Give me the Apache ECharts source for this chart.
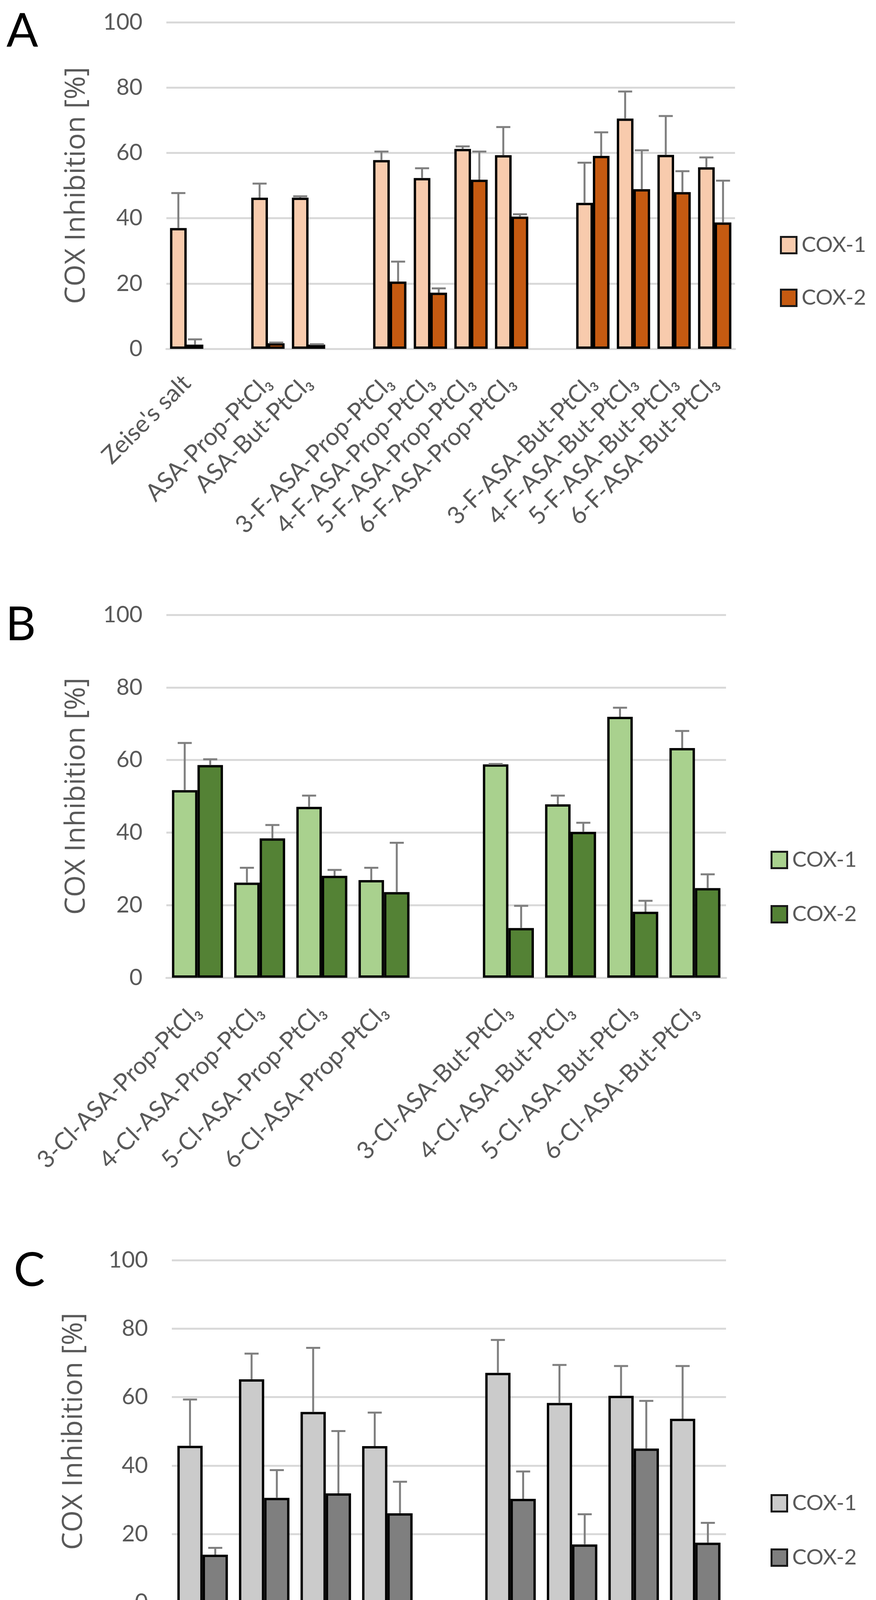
<!DOCTYPE html>
<html><head><meta charset="utf-8">
<script src="https://cdn.jsdelivr.net/npm/echarts@6/dist/echarts.min.js"></script>
<style>html,body{margin:0;padding:0;background:#fff}#c{width:2243px;height:4642px}</style>
</head><body><div id="c"></div>
<script>
// ---------- data ----------
const yTicks = [0, 20, 40, 60, 80, 100];
const seriesNames = ['COX-1', 'COX-2'];

const catsA = ["Zeise's salt", "", "ASA-Prop-PtCl₃", "ASA-But-PtCl₃", "",
  "3-F-ASA-Prop-PtCl₃", "4-F-ASA-Prop-PtCl₃", "5-F-ASA-Prop-PtCl₃", "6-F-ASA-Prop-PtCl₃", "",
  "3-F-ASA-But-PtCl₃", "4-F-ASA-But-PtCl₃", "5-F-ASA-But-PtCl₃", "6-F-ASA-But-PtCl₃"];
const cox1A = [37.0, null, 46.3, 46.3, null, 57.8, 52.3, 61.2, 59.3, null, 44.7, 70.5, 59.4, 55.6];
const sd1A  = [10.7, null, 4.3, 0.4, null, 2.6, 3.0, 0.8, 8.6, null, 12.3, 8.3, 11.9, 3.0];
const cox2A = [1.3, null, 1.7, 1.3, null, 20.6, 17.2, 51.8, 40.5, null, 59.1, 48.9, 48.0, 38.7];
const sd2A  = [1.6, null, 0.2, 0.1, null, 6.1, 1.3, 8.6, 0.7, null, 7.2, 11.9, 6.4, 12.8];

const catsB = ["3-Cl-ASA-Prop-PtCl₃", "4-Cl-ASA-Prop-PtCl₃", "5-Cl-ASA-Prop-PtCl₃", "6-Cl-ASA-Prop-PtCl₃", "",
  "3-Cl-ASA-But-PtCl₃", "4-Cl-ASA-But-PtCl₃", "5-Cl-ASA-But-PtCl₃", "6-Cl-ASA-But-PtCl₃"];
const cox1B = [51.7, 26.2, 47.1, 26.9, null, 58.8, 47.8, 71.9, 63.3];
const sd1B  = [13.0, 4.1, 3.1, 3.4, null, 0.1, 2.4, 2.5, 4.7];
const cox2B = [58.6, 38.4, 28.1, 23.6, null, 13.7, 40.2, 18.2, 24.7];
const sd2B  = [1.6, 3.7, 1.6, 13.6, null, 6.1, 2.5, 3.0, 3.8];

const catsC = ["3-CH₃-ASA-Prop-PtCl₃", "4-CH₃-ASA-Prop-PtCl₃", "5-CH₃-ASA-Prop-PtCl₃", "6-CH₃-ASA-Prop-PtCl₃", "",
  "3-CH₃-ASA-But-PtCl₃", "4-CH₃-ASA-But-PtCl₃", "5-CH₃-ASA-But-PtCl₃", "6-CH₃-ASA-But-PtCl₃"];
const cox1C = [45.8, 65.2, 55.7, 45.7, null, 67.1, 58.3, 60.4, 53.7];
const sd1C  = [13.5, 7.5, 18.7, 9.8, null, 9.6, 11.1, 8.7, 15.4];
const cox2C = [14.0, 30.6, 31.9, 26.1, null, 30.3, 17.0, 45.0, 17.5];
const sd2C  = [2.0, 8.1, 18.2, 9.2, null, 8.0, 8.8, 13.9, 5.8];

// ---------- styling / layout ----------
const FONT = 'Lato, "Open Sans", "DejaVu Sans", sans-serif';
const GREY = '#595959';
const GAP = 0.18;

const panels = [
  { letter: 'A', cats: catsA, v: [cox1A, cox2A], e: [sd1A, sd2A], colors: ['#F8CBAD', '#C55A11'],
    grid: { left: 426, top: 57, width: 1456, height: 836 }, nameGap: 194,
    legend: { left: 1997, top: 600, gap: 80 }, lx: 57, ly: 81 },
  { letter: 'B', cats: catsB, v: [cox1B, cox2B], e: [sd1B, sd2B], colors: ['#A9D18E', '#548235'],
    grid: { left: 426, top: 1574, width: 1433, height: 929 }, nameGap: 194,
    legend: { left: 1973, top: 2174, gap: 84 }, lx: 53, ly: 1600 },
  { letter: 'C', cats: catsC, v: [cox1C, cox2C], e: [sd1C, sd2C], colors: ['#CBCBCB', '#7F7F7F'],
    grid: { left: 440, top: 3226, width: 1419, height: 889 }, nameGap: 215,
    legend: { left: 1973, top: 3821, gap: 84 }, lx: 75, ly: 3253 }
];

function errRender(side) {
  return function (params, api) {
    const j = api.value(0), v = api.value(1), t = api.value(2);
    const band = api.size([1, 0])[0];
    const bw = band * (1 - GAP) / 2;
    const pv = api.coord([j, v]);
    const pt = api.coord([j, t]);
    const x = pv[0] + side * bw / 2;
    const st = { stroke: '#7F7F7F', lineWidth: 5 };
    return { type: 'group', children: [
      { type: 'line', shape: { x1: x, y1: pv[1], x2: x, y2: pt[1] }, style: st },
      { type: 'line', shape: { x1: x - 18, y1: pt[1], x2: x + 18, y2: pt[1] }, style: st }
    ]};
  };
}

const option = {
  animation: false,
  backgroundColor: '#fff',
  grid: panels.map(p => Object.assign({ containLabel: false }, p.grid)),
  xAxis: panels.map((p, i) => ({
    type: 'category', gridIndex: i,
    data: p.cats.map((c, j) => c === '' ? ' '.repeat(j + 1) : c),
    axisTick: { show: false },
    axisLine: { show: true, lineStyle: { color: '#D9D9D9', width: 5 } },
    axisLabel: { interval: 0, rotate: 45, margin: 78, fontSize: 62, color: GREY, fontFamily: FONT }
  })),
  yAxis: panels.map((p, i) => ({
    type: 'value', gridIndex: i, min: yTicks[0], max: yTicks[yTicks.length - 1], interval: yTicks[1] - yTicks[0],
    axisLine: { show: false }, axisTick: { show: false },
    axisLabel: { fontSize: 58, color: GREY, margin: 61, fontFamily: FONT },
    splitLine: { lineStyle: { color: '#D9D9D9', width: 5 } },
    name: 'COX Inhibition [%]', nameLocation: 'middle', nameGap: p.nameGap,
    nameTextStyle: { fontSize: 72, color: GREY, fontFamily: '"Open Sans", "DejaVu Sans", sans-serif' }
  })),
  legend: panels.map((p, i) => ({
    orient: 'vertical', left: p.legend.left, top: p.legend.top, padding: 0,
    itemWidth: 40, itemHeight: 42, itemGap: p.legend.gap, icon: 'rect', selectedMode: false,
    data: seriesNames.map(n => n + ' '.repeat(i)),
    formatter: n => n.trim(),
    itemStyle: { borderColor: '#1A1A1A', borderWidth: 5 },
    textStyle: { fontSize: 55, color: GREY, fontFamily: FONT, padding: [0, 0, 0, 8] }
  })),
  graphic: panels.map(p => ({
    type: 'text', x: p.lx, y: p.ly,
    style: { text: p.letter, fontSize: 120, fill: '#000', fontFamily: FONT, align: 'center', verticalAlign: 'middle' }
  })),
  series: []
};

panels.forEach((p, i) => {
  [0, 1].forEach(k => {
    option.series.push({
      type: 'bar', name: seriesNames[k] + ' '.repeat(i), xAxisIndex: i, yAxisIndex: i,
      data: p.v[k].map(x => x == null ? '-' : x),
      barGap: '0%', barCategoryGap: (GAP * 100) + '%',
      itemStyle: { color: p.colors[k], borderColor: '#000', borderWidth: 6 },
      z: 2
    });
  });
  [0, 1].forEach(k => {
    const d = [];
    p.v[k].forEach((x, j) => { if (x != null) d.push([j, x, x + p.e[k][j]]); });
    option.series.push({
      type: 'custom', xAxisIndex: i, yAxisIndex: i, z: 3, silent: true,
      renderItem: errRender(k === 0 ? -1 : 1),
      encode: { x: 0, y: [1, 2] },
      data: d
    });
  });
});

const chart = echarts.init(document.getElementById('c'), null, { renderer: 'canvas' });
chart.setOption(option);
</script></body></html>
